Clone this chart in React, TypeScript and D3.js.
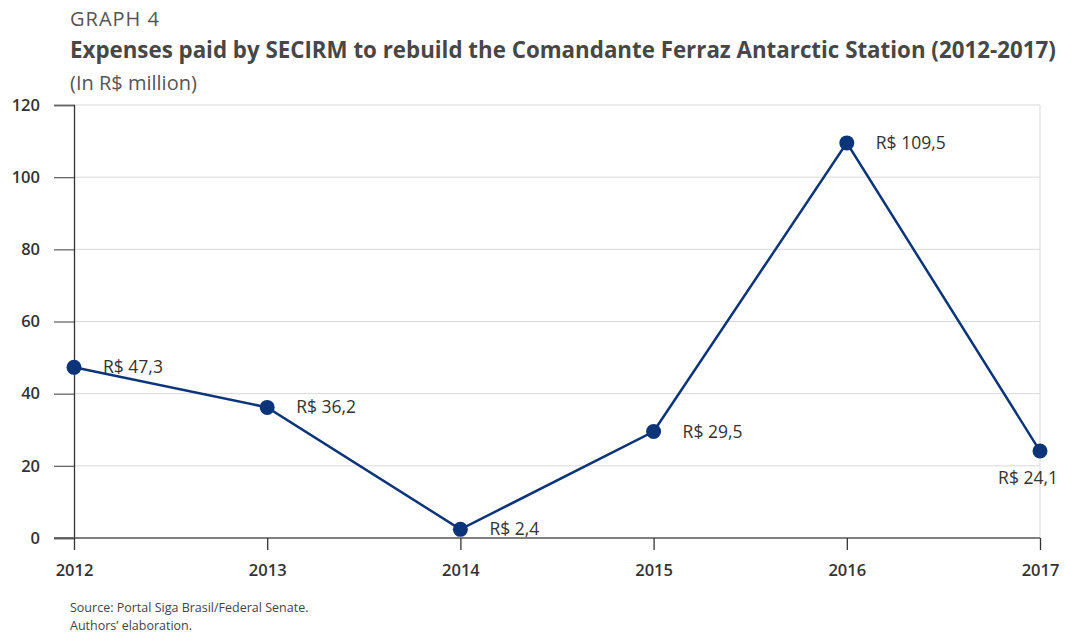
import React, { useRef, useEffect } from "react";
import * as d3 from "d3";

// data
const years = ["2012", "2013", "2014", "2015", "2016", "2017"];
const expenses = [47.3, 36.2, 2.4, 29.5, 109.5, 24.1];
const valueLabels = ["R$ 47,3", "R$ 36,2", "R$ 2,4", "R$ 29,5", "R$ 109,5", "R$ 24,1"];
const yTicks = [0, 20, 40, 60, 80, 100, 120];

const W = 1066, H = 634;
const FONT = "'Open Sans', 'Noto Sans', sans-serif";

export default function App() {
  const ref = useRef<SVGSVGElement>(null);

  useEffect(() => {
    const svg = d3.select(ref.current);
    svg.selectAll("*").remove();

    const left = 74, right = 1040, top = 105, bottom = 538;
    const x = d3.scalePoint<string>().domain(years).range([left, right]);
    const y = d3.scaleLinear().domain([0, 120]).range([bottom, top]);

    // titles
    svg.append("text").attr("x", 70).attr("y", 26)
      .attr("font-family", FONT).attr("font-size", 20).attr("fill", "#555")
      .attr("letter-spacing", 1).text("GRAPH 4");
    // title squeezed horizontally to fit the condensed look of the original
    const tg = svg.append("g").attr("transform", "translate(70,58)");
    const title = tg.append("text").attr("x", 0).attr("y", 0)
      .attr("font-family", FONT).attr("font-size", 23).attr("font-weight", "bold")
      .attr("fill", "#474747")
      .text("Expenses paid by SECIRM to rebuild the Comandante Ferraz Antarctic Station (2012-2017)");
    const len = (title.node() as SVGTextElement).getComputedTextLength() || 986;
    tg.attr("transform", `translate(70,58) scale(${986 / len},1)`);
    svg.append("text").attr("x", 70).attr("y", 90)
      .attr("font-family", FONT).attr("font-size", 20).attr("fill", "#555")
      .text("(In R$ million)");

    // gridlines
    svg.append("g").selectAll("line").data(yTicks.filter(d => d > 0)).join("line")
      .attr("x1", left).attr("x2", right)
      .attr("y1", d => y(d)).attr("y2", d => y(d))
      .attr("stroke", "#d9d9d9").attr("stroke-width", 1);
    svg.append("line").attr("x1", right).attr("x2", right).attr("y1", top).attr("y2", bottom)
      .attr("stroke", "#d9d9d9");

    // y axis
    const ya = svg.append("g").attr("transform", `translate(${left},0)`)
      .call(d3.axisLeft(y).tickValues(yTicks).tickSize(20).tickPadding(14));
    ya.select(".domain").attr("stroke", "#333").attr("stroke-width", 1.3);
    ya.selectAll(".tick line").attr("stroke", "#666").attr("stroke-width", 1.3);
    ya.selectAll(".tick text").attr("font-family", FONT).attr("font-size", 16.5)
      .attr("font-weight", 600).attr("fill", "#333");

    // x axis
    const xa = svg.append("g").attr("transform", `translate(0,${bottom})`)
      .call(d3.axisBottom(x).tickSize(12).tickSizeOuter(0).tickPadding(14));
    xa.select(".domain").attr("stroke", "#555").attr("stroke-width", 1.5)
      .attr("d", `M${left - 20},0H${right}`);
    xa.selectAll(".tick line").attr("stroke", "#333").attr("stroke-width", 1.3);
    xa.selectAll(".tick text").attr("font-family", FONT).attr("font-size", 16.5)
      .attr("font-weight", 600).attr("fill", "#333");

    // line
    const color = "#0c3479";
    const line = d3.line<number>().x((_, i) => x(years[i])!).y(d => y(d));
    svg.append("path").datum(expenses).attr("d", line)
      .attr("fill", "none").attr("stroke", color).attr("stroke-width", 2.5);
    svg.append("g").selectAll("circle").data(expenses).join("circle")
      .attr("cx", (_, i) => x(years[i])!).attr("cy", d => y(d)).attr("r", 7.5)
      .attr("fill", color);

    // value labels
    svg.append("g").selectAll("text").data(expenses).join("text")
      .attr("x", (_, i) => i === 5 ? x(years[i])! + 18 : x(years[i])! + 29)
      .attr("y", (d, i) => i === 5 ? y(d) + 33 : y(d) + 6)
      .attr("text-anchor", (_, i) => i === 5 ? "end" : "start")
      .attr("font-family", FONT).attr("font-size", 17.5).attr("fill", "#333")
      .text((_, i) => valueLabels[i]);

    // source
    svg.append("text").attr("x", 70).attr("y", 612)
      .attr("font-family", "'Liberation Sans Narrow', 'Open Sans', sans-serif").attr("font-size", 12.5)
      .attr("fill", "#444").text("Source: Portal Siga Brasil/Federal Senate.");
    svg.append("text").attr("x", 70).attr("y", 630)
      .attr("font-family", "'Liberation Sans Narrow', 'Open Sans', sans-serif").attr("font-size", 12.5)
      .attr("fill", "#444").text("Authors’ elaboration.");
  }, []);

  return (
    <svg ref={ref} width={W} height={H}
      style={{ position: "absolute", left: 0, top: 0, background: "#fff" }} />
  );
}
